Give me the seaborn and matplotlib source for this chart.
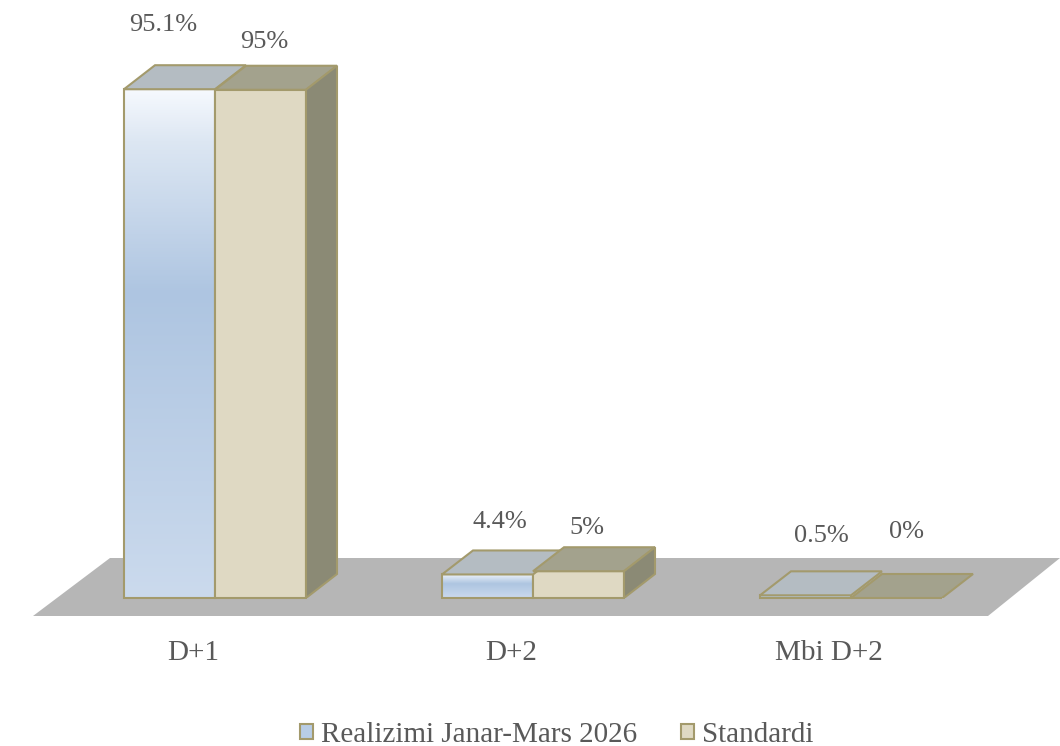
import matplotlib
matplotlib.use("Agg")
import matplotlib.pyplot as plt
import numpy as np
import pandas as pd
import seaborn as sns
from matplotlib.colors import LinearSegmentedColormap
from matplotlib.patches import Polygon
from matplotlib.transforms import ScaledTranslation

categories = ["D+1", "D+2", "Mbi D+2"]
realizimi = [95.1, 4.4, 0.5]
standardi = [95, 5, 0]
series_names = ["Realizimi Janar-Mars 2026", "Standardi"]
value_labels = [["95.1%", "4.4%", "0.5%"], ["95%", "5%", "0%"]]

# label nudges in pixels, the original labels sit at uneven heights
label_nudge = [[(-6, 64), (12, 52), (16, 59)], [(4, 48), (8, 43), (10, 66)]]

EDGE = "#a39a6c"
TEXT = "#595959"
FLOOR = "#b6b6b6"
TOP_COLORS = ["#b4bcc2", "#a3a28d"]
SIDE = "#8b8a75"
PX_PER_CAT = 318.0
PX_PER_VAL = 5.35
DX = 31 / PX_PER_CAT
DY = 24 / PX_PER_VAL
LW = 1.5

sns.set_theme(style="white")
plt.rcParams["font.family"] = ["Liberation Serif", "DejaVu Serif"]

df = pd.DataFrame({
    "cat": categories * 2,
    "val": realizimi + standardi,
    "series": [series_names[0]] * 3 + [series_names[1]] * 3,
})

fig = plt.figure(figsize=(10.6, 7.46), dpi=100)
ax = fig.add_axes([0, 148 / 746, 1, 598 / 746])

sns.barplot(
    data=df, x="cat", y="val", hue="series", ax=ax,
    palette=["#b8cde6", "#dfd9c3"], saturation=1, width=2 * 91 / PX_PER_CAT, gap=0,
    edgecolor=EDGE, linewidth=LW, zorder=3, clip_on=False,
)

sns.move_legend(
    ax, "lower center", bbox_to_anchor=(0.525, -0.018), bbox_transform=fig.transFigure,
    ncol=2, frameon=False, title=None, fontsize=21, handlelength=0.45,
    handleheight=0.45, handletextpad=0.28, columnspacing=1.5, labelcolor=TEXT,
    borderaxespad=0,
)

x_left = -215 / PX_PER_CAT
x_right = (1060 - 215) / PX_PER_CAT


def px_x(px):
    return (px - 215) / PX_PER_CAT


def px_y(py):
    return (598 - py) / PX_PER_VAL


# grey floor under the bars
floor = [(33, 616), (988, 616), (1060, 558), (110, 558)]
ax.add_patch(Polygon([(px_x(a), px_y(b)) for a, b in floor], closed=True,
                     facecolor=FLOOR, edgecolor="none", zorder=1, clip_on=False))

# gradient on the first series, drawn behind an unfilled bar
grad_cmap = LinearSegmentedColormap.from_list(
    "bar_blue", [(0, "#cbdaed"), (0.6, "#aec5e1"), (0.9, "#dde7f3"), (1, "#f6f9fe")]
)
grad = np.linspace(0, 1, 256).reshape(-1, 1)
for bar in ax.containers[0]:
    ax.imshow(grad, cmap=grad_cmap, aspect="auto", origin="lower", zorder=2.5,
              extent=(bar.get_x(), bar.get_x() + bar.get_width(), 0, bar.get_height()))
    bar.set_facecolor("none")

# extruded top and side faces, built from the bars themselves
for s, container in enumerate(ax.containers):
    for bar in container:
        x0, x1 = bar.get_x(), bar.get_x() + bar.get_width()
        h = bar.get_height()
        ax.add_patch(Polygon(
            [(x0, h), (x1, h), (x1 + DX, h + DY), (x0 + DX, h + DY)], closed=True,
            facecolor=TOP_COLORS[s], edgecolor=EDGE, linewidth=LW, zorder=3 + s,
        ))
        if s == 1 and h > 0:
            ax.add_patch(Polygon(
                [(x1, 0), (x1 + DX, DY), (x1 + DX, h + DY), (x1, h)], closed=True,
                facecolor=SIDE, edgecolor=EDGE, linewidth=LW, zorder=3 + s,
            ))

for s, container in enumerate(ax.containers):
    for bar, txt, nudge in zip(container, value_labels[s], label_nudge[s]):
        ax.annotate(
            txt, (bar.get_x() + bar.get_width() / 2, bar.get_height()),
            xytext=(nudge[0] * 0.72, nudge[1] * 0.72), textcoords="offset points",
            ha="center", va="center", fontsize=19, color=TEXT, annotation_clip=False,
        )

ax.set_xlim(x_left, x_right)
ax.set_ylim(0, 598 / PX_PER_VAL)
ax.set_xlabel("")
ax.set_ylabel("")
ax.set_yticks([])
ax.tick_params(axis="x", length=0, pad=30, labelsize=21, labelcolor=TEXT)
# category labels sit a little left of the group centres in the original
shift = ScaledTranslation(-22 / 100, 0, fig.dpi_scale_trans)
for lbl in ax.get_xticklabels():
    lbl.set_transform(lbl.get_transform() + shift)
ax.patch.set_visible(False)
sns.despine(ax=ax, left=True, bottom=True)

fig.savefig("out.png", dpi=100)
